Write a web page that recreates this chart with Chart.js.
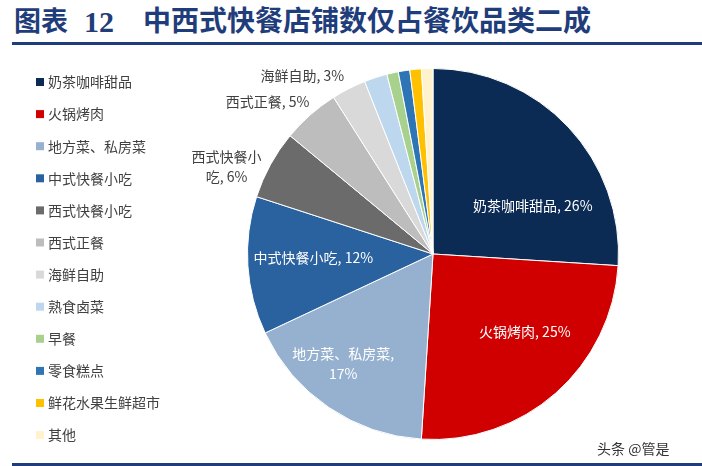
<!DOCTYPE html>
<html>
<head>
<meta charset="utf-8">
<script src="https://cdn.jsdelivr.net/npm/chart.js@4"></script>
<style>
  body { margin: 0; width: 702px; height: 466px; overflow: hidden; position: relative; background: #fff; font-family: "Noto Sans CJK SC", sans-serif; }
  .title { position: absolute; top: 8px; line-height: 28px; font-size: 27px; font-weight: bold; color: #1F3D7A; font-family: "Liberation Serif", "Noto Sans CJK SC", serif; white-space: pre; }
  .rule { position: absolute; left: 12px; right: 0; height: 3px; background: #1F3D7A; }
  #wrap { position: absolute; left: 0; top: 46px; width: 702px; height: 416px; }
  #mark { position: absolute; left: 597px; top: 438px; font-size: 14px; line-height: 20px; color: #333; }
</style>
</head>
<body>
<div class="title" style="left:14px">图表</div>
<div class="title" style="left:84px;font-size:30px">12</div>
<div class="title" style="left:143px;font-size:28px">中西式快餐店铺数仅占餐饮品类二成</div>
<div class="rule" style="top:42px"></div>
<div id="wrap"><canvas id="myChart"></canvas></div>
<div id="mark">头条 @管是</div>
<div class="rule" style="top:463px"></div>
<script>
const categories = ["奶茶咖啡甜品", "火锅烤肉", "地方菜、私房菜", "中式快餐小吃", "西式快餐小吃", "西式正餐",
  "海鲜自助", "熟食卤菜", "早餐", "零食糕点", "鲜花水果生鲜超市", "其他"];
const shares = [26, 25, 17, 12, 6, 5, 3, 2, 1, 1, 1, 1];
const sliceColors = ["#0C2B54", "#D00000", "#95B1CF", "#2A62A0", "#6B6B6B", "#BDBDBD",
  "#D9D9D9", "#BDD7EE", "#A9D18E", "#2E75B6", "#FFC000", "#FFF2CC"];

// label spots, as offsets from the pie centre in radius units
const labelSpots = [[0.538, -0.263], [0.495, 0.419], [-0.484, 0.591], [-0.645, 0.022],
  [-1.113, -0.468], [-0.892, -0.823], [-0.704, -0.962]];
const labelBreaks = [0, 0, 8, 0, 5, 0, 0];
const labelInside = [true, true, true, true, false, false, false];

const sliceLabels = {
  id: "sliceLabels",
  afterDatasetsDraw(chart) {
    const c = chart.ctx;
    const arcs = chart.getDatasetMeta(0).data;
    c.save();
    c.font = '14px "Noto Sans CJK SC"';
    c.textAlign = "center";
    c.textBaseline = "middle";
    labelSpots.forEach((p, i) => {
      const a = arcs[i];
      const r = a.outerRadius;
      const x = a.x + p[0] * r;
      const y = a.y + p[1] * r;
      const txt = categories[i] + ", " + shares[i] + "%";
      let lines = [txt];
      if (labelBreaks[i]) lines = [txt.slice(0, labelBreaks[i]), txt.slice(labelBreaks[i]).trim()];
      c.fillStyle = labelInside[i] ? "#ffffff" : "#404040";
      lines.forEach((l, k) => c.fillText(l, x, y + (k - (lines.length - 1) / 2) * 20));
    });
    c.restore();
  }
};

const sideLegend = {
  id: "sideLegend",
  afterDraw(chart) {
    const c = chart.ctx;
    c.save();
    c.font = '14px "Noto Sans CJK SC"';
    c.textBaseline = "middle";
    categories.forEach((name, i) => {
      const y = 36 + i * 32.1;
      c.fillStyle = sliceColors[i];
      c.fillRect(36, y - 4, 8, 8);
      c.fillStyle = "#404040";
      c.fillText(name, 48, y);
    });
    c.restore();
  }
};

new Chart(document.getElementById("myChart"), {
  type: "pie",
  data: {
    labels: categories,
    datasets: [{
      data: shares,
      backgroundColor: sliceColors,
      borderColor: "#ffffff",
      borderWidth: 1
    }]
  },
  options: {
    responsive: true,
    maintainAspectRatio: false,
    animation: false,
    layout: { padding: { left: 247, right: 83, top: 22, bottom: 22 } },
    plugins: {
      legend: { display: false },
      tooltip: { enabled: false }
    }
  },
  plugins: [sliceLabels, sideLegend]
});
</script>
</body>
</html>
